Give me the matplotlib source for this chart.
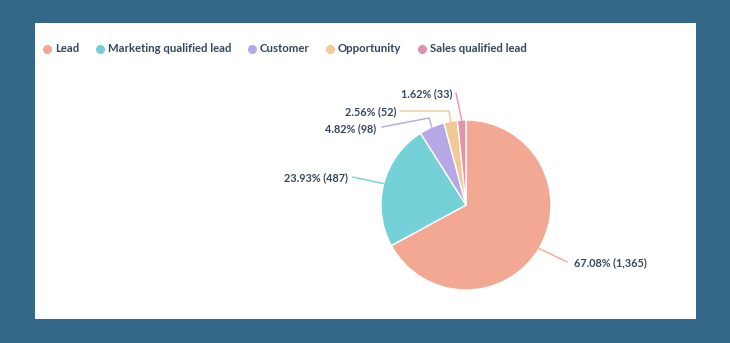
import numpy as np
import matplotlib.pyplot as plt
from matplotlib.lines import Line2D

# Data
stages = ['Lead', 'Marketing qualified lead', 'Customer', 'Opportunity', 'Sales qualified lead']
counts = [1365, 487, 98, 52, 33]
pcts = [67.08, 23.93, 4.82, 2.56, 1.62]
colors = ['#f3a893', '#73d1d7', '#b6a8e6', '#f2c895', '#e292aa']

# Label layout, pixels relative to pie centre (y up): knee, end of connector, text x/y, alignment
knees = [(101, -57), (-113, 28), (-37, 87), (-17, 94), (-10, 112)]
ends = [(101, -57), (-113, 28), (-84, 78), (-66, 94), (-10, 112)]
text_xy = [(108, -58), (-118, 27), (-90, 76), (-70, 93), (-14, 111)]
aligns = ['left', 'right', 'right', 'right', 'right']

W, H = 730, 343
bg = '#336889'
txt = '#33475b'
plt.rcParams['font.family'] = ['Lato', 'DejaVu Sans']

fig = plt.figure(figsize=(W / 100, H / 100), dpi=100, facecolor=bg)

# white card
card = fig.add_axes([35 / W, (H - 319) / H, (696 - 35) / W, (319 - 23) / H])
card.set_facecolor('white')
card.set_xticks([])
card.set_yticks([])
for s in card.spines.values():
    s.set_visible(False)

# pie
cx, cy, r = 466, 205, 85
ax = fig.add_axes([(cx - r) / W, (H - cy - r) / H, 2 * r / W, 2 * r / H])
ax.set_zorder(2)
wedges, _ = ax.pie(counts, colors=colors, startangle=90, counterclock=False, radius=1,
                   wedgeprops=dict(edgecolor='white', linewidth=1))
ax.set_xlim(-1, 1)
ax.set_ylim(-1, 1)
ax.set_aspect('equal')
ax.axis('off')

for i, w in enumerate(wedges):
    mid = np.deg2rad((w.theta1 + w.theta2) / 2)
    ex, ey = np.cos(mid), np.sin(mid)
    kx, ky = knees[i][0] / r, knees[i][1] / r
    tx, ty = ends[i][0] / r, ends[i][1] / r
    ax.plot([ex, kx, tx], [ey, ky, ty], color=colors[i], lw=1, clip_on=False)
    lx, ly = text_xy[i][0] / r, text_xy[i][1] / r
    ax.text(lx, ly, f'{pcts[i]:.2f}% ({counts[i]:,})', ha=aligns[i], va='center',
            fontsize=7.8, fontweight='bold', color=txt, clip_on=False)

# legend
handles = [Line2D([], [], marker='o', ls='', color=c, markersize=5.5) for c in colors]
leg = fig.legend(handles, stages, loc='center left', bbox_to_anchor=(43.5 / W, 1 - 49 / H),
                 ncol=5, frameon=False, fontsize=8.2, handlelength=0.6, handletextpad=0.4,
                 columnspacing=1.5, borderaxespad=0, borderpad=0)
for t in leg.get_texts():
    t.set_color(txt)
    t.set_fontweight('bold')

fig.savefig('out.png', dpi=100, facecolor=bg)
